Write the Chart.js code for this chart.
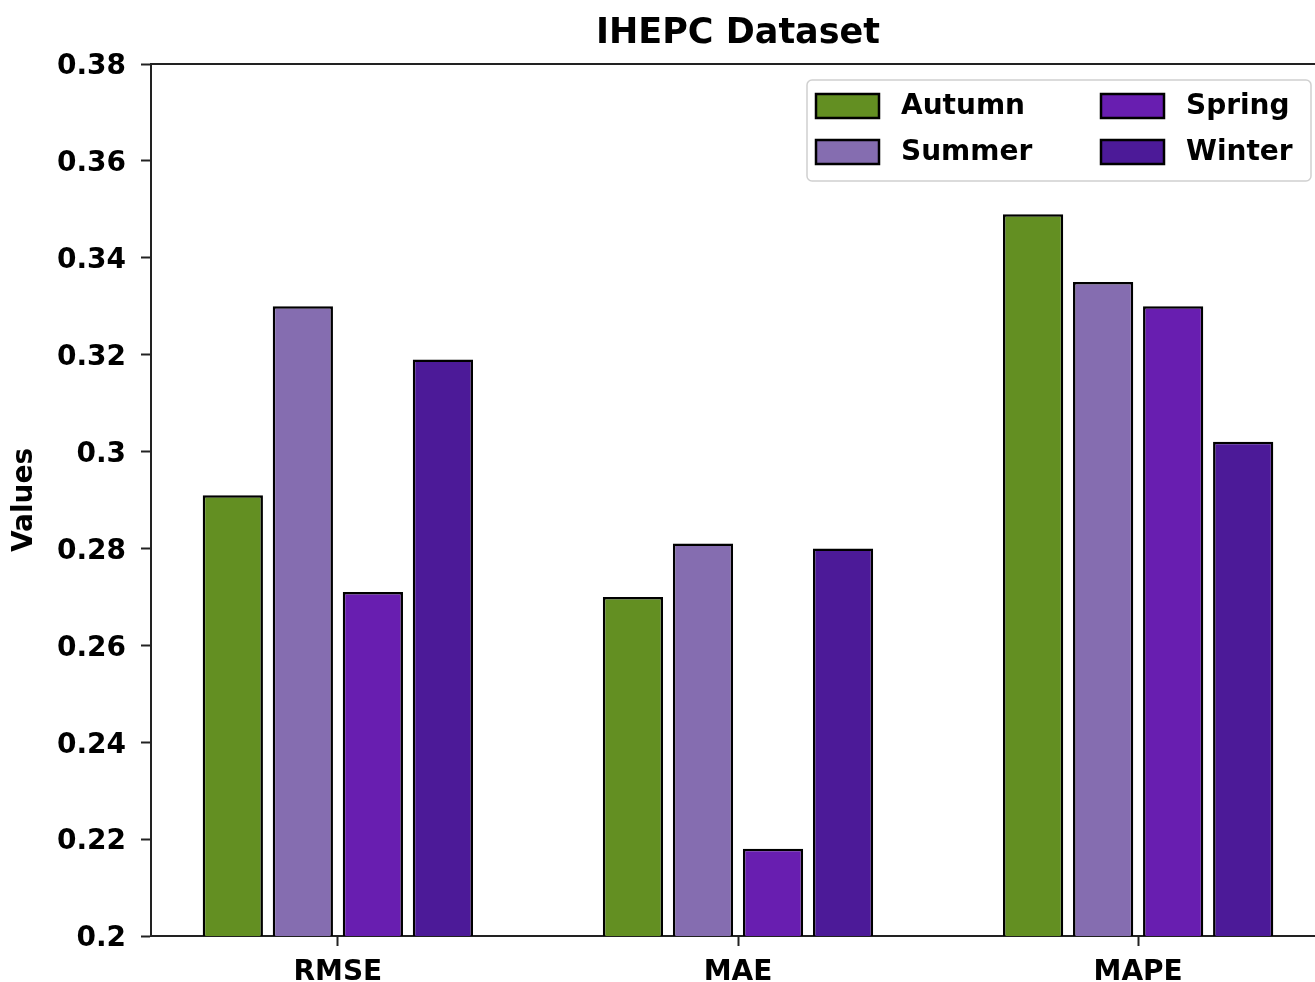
<!DOCTYPE html>
<html>
<head>
<meta charset="utf-8">
<title>IHEPC Dataset</title>
<script src="https://cdn.jsdelivr.net/npm/chart.js@4.4.1/dist/chart.umd.min.js"></script>
<style>
  html, body { margin: 0; padding: 0; background: #fff; overflow: hidden; }
  #wrap { position: relative; width: 1325px; height: 982px; }
</style>
</head>
<body>
<div id="wrap"><canvas id="chart"></canvas></div>
<script>
// ── Data ──────────────────────────────────────────────
const METRICS = ['RMSE', 'MAE', 'MAPE'];
const SEASONS = ['Autumn', 'Summer', 'Spring', 'Winter'];
const AUTUMN = [0.291, 0.270, 0.349];
const SUMMER = [0.330, 0.281, 0.335];
const SPRING = [0.271, 0.218, 0.330];
const WINTER = [0.319, 0.280, 0.302];
const Y_TICKS = [0.2, 0.22, 0.24, 0.26, 0.28, 0.3, 0.32, 0.34, 0.36, 0.38];
const COLORS = ['#638f22', '#856db0', '#681eb0', '#4c1a98'];

const SERIES = [AUTUMN, SUMMER, SPRING, WINTER];
const FONT = 'DejaVu Sans';

Chart.defaults.font.family = FONT;
Chart.defaults.font.weight = 'bold';
Chart.defaults.color = '#000';

// ── Top spine + legend box (matplotlib style) ─────────
const framePlugin = {
  id: 'frame',
  afterDraw(chart) {
    const { ctx, chartArea } = chart;
    ctx.save();
    ctx.strokeStyle = '#222';
    ctx.lineWidth = 2;
    ctx.beginPath();
    ctx.moveTo(chartArea.left - 1, chartArea.top);
    ctx.lineTo(chartArea.right, chartArea.top);
    ctx.stroke();

    // legend
    const bx = chartArea.right - 518, by = chartArea.top + 16;
    const bw = 504, bh = 101, r = 5;
    ctx.fillStyle = 'rgba(255,255,255,0.8)';
    ctx.strokeStyle = '#d0d0d0';
    ctx.lineWidth = 1.5;
    ctx.beginPath();
    ctx.roundRect(bx, by, bw, bh, r);
    ctx.fill();
    ctx.stroke();

    ctx.font = `bold 28px "${FONT}"`;
    ctx.textBaseline = 'middle';
    ctx.textAlign = 'left';
    chart.data.datasets.forEach((ds, i) => {
      const col = Math.floor(i / 2), row = i % 2;
      const x = bx + 9 + col * 285;
      const cy = by + 26 + row * 46;
      ctx.fillStyle = ds.backgroundColor;
      ctx.fillRect(x, cy - 12, 63, 24);
      ctx.strokeStyle = '#000';
      ctx.lineWidth = 2.5;
      ctx.strokeRect(x, cy - 12, 63, 24);
      ctx.fillStyle = '#000';
      ctx.fillText(ds.label, x + 85, cy + 1);
    });
    ctx.restore();
  }
};

// ── Chart ─────────────────────────────────────────────
const ctx = document.getElementById('chart').getContext('2d');
new Chart(ctx, {
  type: 'bar',
  data: {
    datasets: SEASONS.map((name, s) => ({
      label: name,
      data: SERIES[s].map((v, i) => ({ x: i, y: v })),
      backgroundColor: COLORS[s],
      borderColor: '#000',
      borderWidth: 2.5,
      borderSkipped: false,
      categoryPercentage: 0.7,
      barPercentage: 0.86
    }))
  },
  options: {
    responsive: true,
    maintainAspectRatio: false,
    animation: false,
    layout: { padding: 0 },
    plugins: {
      legend: { display: false },
      tooltip: { enabled: false },
      title: {
        display: true,
        fullSize: false,
        text: 'IHEPC Dataset',
        color: '#000',
        font: { size: 35, weight: 'bold' },
        padding: { top: 13, bottom: 9 }
      }
    },
    scales: {
      x: {
        type: 'linear',
        offset: false,
        min: -0.467,
        max: 2.467,
        afterBuildTicks: axis => { axis.ticks = METRICS.map((_, i) => ({ value: i })); },
        afterFit: axis => { axis.height = 46; },
        ticks: {
          color: '#000',
          font: { size: 28, weight: 'bold' },
          padding: 10,
          callback: v => METRICS[v]
        },
        grid: { offset: false, drawOnChartArea: false, drawTicks: true, tickLength: 10, tickColor: '#222', tickWidth: 2 },
        border: { display: true, color: '#222', width: 2 }
      },
      y: {
        min: 0.2,
        max: 0.38,
        afterBuildTicks: axis => { axis.ticks = Y_TICKS.map(v => ({ value: v })); },
        afterFit: axis => { axis.width = 151; },
        ticks: {
          color: '#000',
          font: { size: 28, weight: 'bold' },
          padding: 15,
          labelOffset: 3,
          callback: v => String(Number(v.toFixed(2)))
        },
        title: {
          display: true,
          text: 'Values',
          color: '#000',
          font: { size: 28, weight: 'bold' },
          padding: { top: 8, bottom: 0 }
        },
        grid: { drawOnChartArea: false, drawTicks: true, tickLength: 10, tickColor: '#222', tickWidth: 2 },
        border: { display: true, color: '#222', width: 2 }
      }
    }
  },
  plugins: [framePlugin]
});
</script>
</body>
</html>
